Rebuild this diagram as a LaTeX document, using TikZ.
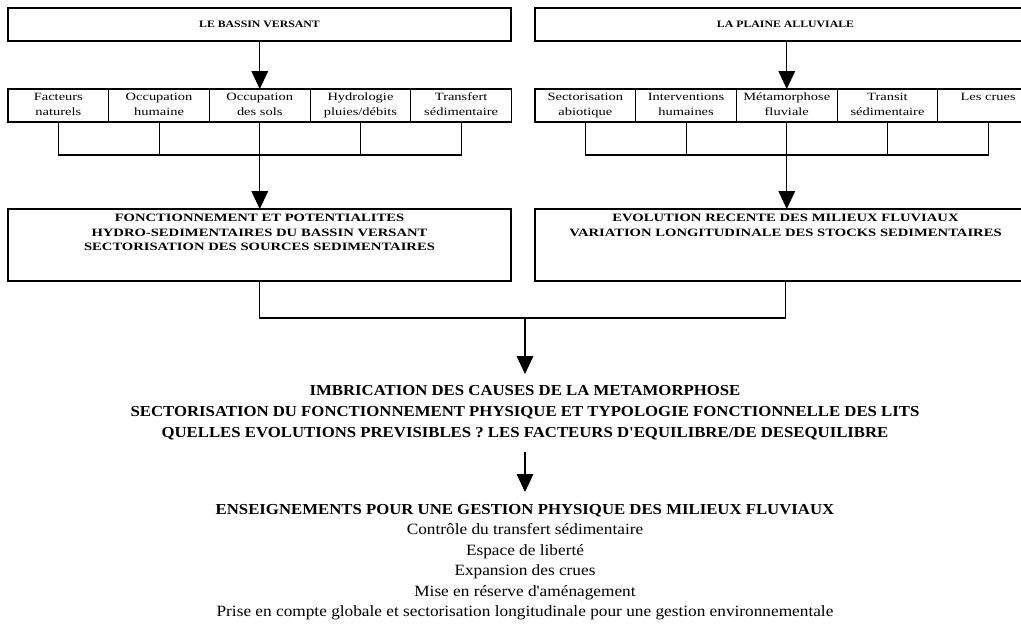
\documentclass[tikz,border=0pt]{standalone}
\usepackage{fontspec}
\setmainfont{Liberation Serif}
\newfontfamily\headfont{Liberation Serif}[FakeStretch=1.2]
\newfontfamily\boxfont{Liberation Serif}[FakeStretch=1.3]
\newfontfamily\lowfont{Liberation Serif}[FakeStretch=1.1]
\usetikzlibrary{arrows.meta,positioning}

\begin{document}
\begin{tikzpicture}[x=0.03cm,y=-0.03cm,>={Triangle[width=0.5cm,length=0.54cm]},
  link/.style={line width=0.9pt},
  head box/.style={draw,line width=2pt,minimum height=0.99cm,inner sep=0,outer sep=0,font=\headfont\bfseries\fontsize{8.4pt}{10pt}\selectfont},
  item box/.style={draw,line width=0.9pt,text width=3.021cm,align=center,inner sep=0,outer sep=0,text height=0.33cm,text depth=0.66cm,font=\boxfont\fontsize{9.5pt}{12.8pt}\selectfont},
  result box/.style={draw,line width=1.6pt,align=center,inner sep=0,outer sep=0,text height=0.38cm,text depth=1.78cm,font=\boxfont\bfseries\fontsize{9.6pt}{12.4pt}\selectfont},
  low text/.style={align=center,inner xsep=0,font=\lowfont\fontsize{13.4pt}{17.5pt}\selectfont}]

  \useasboundingbox (0,0) rectangle (1021,633);
  \clip (0,0) rectangle (1021,633);

  \node[head box,anchor=north west,minimum width=15.09cm] (bv) at (8,8) {LE BASSIN VERSANT};
  \node[head box,anchor=north west,minimum width=15.03cm] (pa) at (535,8) {LA PLAINE ALLUVIALE};

  \node[item box,anchor=north west] (bv1) at (8,89) {Facteurs\\naturels};
  \node[item box,right=0pt of bv1] (bv2) {Occupation\\humaine};
  \node[item box,right=0pt of bv2] (bv3) {Occupation\\des sols};
  \node[item box,right=0pt of bv3] (bv4) {Hydrologie\\pluies/débits};
  \node[item box,right=0pt of bv4] (bv5) {Transfert\\sédimentaire};

  \node[item box,anchor=north west] (pa1) at (535,89) {Sectorisation\\abiotique};
  \node[item box,right=0pt of pa1] (pa2) {Interventions\\humaines};
  \node[item box,right=0pt of pa2] (pa3) {Métamorphose\\fluviale};
  \node[item box,right=0pt of pa3] (pa4) {Transit\\sédimentaire};
  \node[item box,right=0pt of pa4] (pa5) {Les crues};

  \node[result box,anchor=north west,text width=15.09cm] (fp) at (8,209) {FONCTIONNEMENT ET POTENTIALITES\\HYDRO-SEDIMENTAIRES DU BASSIN VERSANT\\SECTORISATION DES SOURCES SEDIMENTAIRES};
  \node[result box,anchor=north west,text width=15.03cm] (ev) at (535,209) {EVOLUTION RECENTE DES MILIEUX FLUVIAUX\\VARIATION LONGITUDINALE DES STOCKS SEDIMENTAIRES};

  \node[low text,anchor=north,inner ysep=0.35cm,font=\lowfont\bfseries\fontsize{13pt}{17.7pt}\selectfont] (im) at (525,374) {IMBRICATION DES CAUSES DE LA METAMORPHOSE\\SECTORISATION DU FONCTIONNEMENT PHYSIQUE ET TYPOLOGIE FONCTIONNELLE DES LITS\\QUELLES EVOLUTIONS PREVISIBLES ? LES FACTEURS D'EQUILIBRE/DE DESEQUILIBRE};
  \node[low text,anchor=north,inner ysep=0.35cm] (en) at (525,492) {{\bfseries\fontsize{13pt}{17.5pt}\selectfont ENSEIGNEMENTS POUR UNE GESTION PHYSIQUE DES MILIEUX FLUVIAUX}\\Contrôle du transfert sédimentaire\\Espace de liberté\\Expansion des crues\\Mise en réserve d'aménagement\\Prise en compte globale et sectorisation longitudinale pour une gestion environnementale};

  \coordinate (bvbar) at (0,155);
  \coordinate (jm) at (525,318);

  \draw[link,->] (bv3.north |- bv.south) -- (bv3.north);
  \draw[link,->] (pa3.north |- pa.south) -- (pa3.north);

  \draw[link] (bv1.south) -- (bv1.south |- bvbar) -- (bv5.south |- bvbar) -- (bv5.south);
  \draw[link] (bv2.south) -- (bv2.south |- bvbar);
  \draw[link] (bv4.south) -- (bv4.south |- bvbar);
  \draw[link,->] (bv3.south) -- (bv3.south |- fp.north);

  \draw[link] (pa1.south) -- (pa1.south |- bvbar) -- (pa5.south |- bvbar) -- (pa5.south);
  \draw[link] (pa2.south) -- (pa2.south |- bvbar);
  \draw[link] (pa4.south) -- (pa4.south |- bvbar);
  \draw[link,->] (pa3.south) -- (pa3.south |- ev.north);

  \draw[link] (fp.south) |- (jm) -| (ev.south);
  \draw[link,->] (jm) -- (im.north -| jm);
  \draw[link,->] (im.south -| jm) -- (en.north -| jm);
\end{tikzpicture}
\end{document}
